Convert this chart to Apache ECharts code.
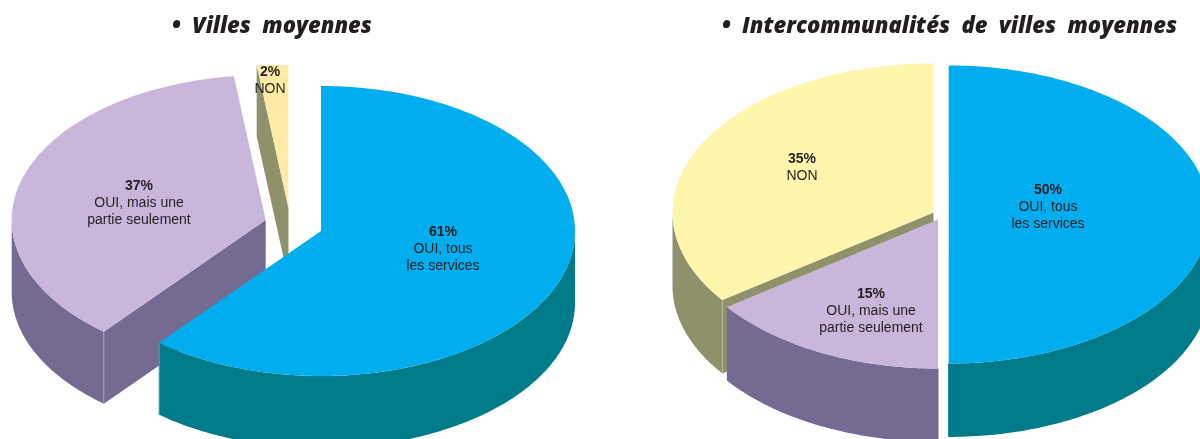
<!DOCTYPE html>
<html lang="fr">
<head>
<meta charset="utf-8">
<title>Villes moyennes et intercommunalités</title>
<script src="https://cdn.jsdelivr.net/npm/echarts@6/dist/echarts.min.js"></script>
<style>
  html, body { margin: 0; padding: 0; background: #fff; }
  #chart { width: 1200px; height: 439px; }
</style>
</head>
<body>
<div id="chart"></div>
<script>
// Shares of answers, in percent, clockwise from twelve o'clock.
const answers = ['OUI, tous\nles services', 'OUI, mais une\npartie seulement', 'NON'];
const villesValues = [61, 37, 2];
const intercoValues = [50, 15, 35];
const titles = ['•  Villes  moyennes', '•  Intercommunalités  de  villes  moyennes'];

// Tilted-disc layout of each pie: every slice is pulled out to its own apex.
const villesLayout = {
  rx: 254, ry: 145, depth: 72, clipTop: 65,
  apex: [[321, 231], [265.7, 220], [288.5, 208]],
  labels: [[443, 249], [139, 203], [270, 80.5]],
  top: ['#00adef', '#c8b7da', '#ffeba6'],
  side: ['#007b8a', '#756a92', '#8e916a'],
  edge: ['#5fa6b0', '#a79fba', '#8e916a']
};
const intercoLayout = {
  rx: 261, ry: 149, depth: 73.4, clipTop: 0,
  apex: [[948.7, 214.5], [938, 219.5], [933.5, 212.5]],
  labels: [[1048, 207], [871, 311], [802, 167.5]],
  top: ['#00adef', '#c8b7da', '#fff6ad'],
  side: ['#007b8a', '#756a92', '#8e916a'],
  edge: ['#007b8a', '#756a92', '#b7b99b']
};

const TAU = Math.PI * 2;
const labelFont = '"Liberation Sans", Arial, sans-serif';

// Builds a custom series that projects each slice on a flattened ellipse.
function pieSeries(values, layout) {
  const total = values.reduce((s, v) => s + v, 0);
  const order = values.map((_, i) => i).reverse();   // back slices are painted first

  function renderSlice(params, api) {
    const i = api.value(1);
    const n = values.length;
    const before = values.slice(0, i).reduce((s, v) => s + v, 0);
    const a = before / total * TAU;
    const b = (before + api.value(0)) / total * TAU;
    const [cx, cy] = layout.apex[i];
    const clampY = y => Math.max(layout.clipTop, y);
    const rim = (t, drop) => [
      cx + layout.rx * Math.sin(t),
      clampY(cy - layout.ry * Math.cos(t) + drop)
    ];
    const arc = (from, to, drop) => {
      const steps = Math.max(2, Math.ceil((to - from) / (Math.PI / 180)));
      const pts = [];
      for (let k = 0; k <= steps; k++) pts.push(rim(from + (to - from) * k / steps, drop));
      return pts;
    };
    const base = (n - i) * 10;
    const children = [];
    const depth = layout.depth;

    // Cut face on the starting radius, when it looks towards the viewer.
    if (Math.sin(a) < -1e-6) {
      children.push({
        type: 'polygon', z2: base,
        shape: { points: [[cx, clampY(cy)], rim(a, 0), rim(a, depth), [cx, clampY(cy + depth)]] },
        style: { fill: layout.side[i] }
      });
    }
    // Outer wall: only the front half of the rim shows.
    const from = Math.max(a, Math.PI / 2);
    const to = Math.min(b, Math.PI * 1.5);
    if (to > from) {
      children.push({
        type: 'polygon', z2: base + 1,
        shape: { points: arc(from, to, 0).concat(arc(from, to, depth).reverse()) },
        style: { fill: layout.side[i] }
      });
      // Pale hairline along the vertical corner of the block.
      const cornerT = a > Math.PI / 2 && a < Math.PI * 1.5 ? a : (b < Math.PI * 1.5 ? b : null);
      if (cornerT !== null) {
        const p = rim(cornerT, 0), q = rim(cornerT, depth);
        children.push({
          type: 'line', z2: base + 2,
          shape: { x1: p[0], y1: p[1], x2: q[0], y2: q[1] },
          style: { stroke: layout.edge[i], lineWidth: 1 }
        });
      }
    }
    // Top surface of the slice.
    children.push({
      type: 'polygon', z2: base + 3,
      shape: { points: [[cx, clampY(cy)]].concat(arc(a, b, 0)) },
      style: { fill: layout.top[i] }
    });
    // Percentage in bold above the answer.
    const rowLines = answers[i].split('\n').map(l => '{n|' + l + '}').join('\n');
    children.push({
      type: 'text', z2: 200,
      style: {
        x: layout.labels[i][0], y: layout.labels[i][1],
        text: '{b|' + api.value(0) + '%}\n' + rowLines,
        align: 'center', verticalAlign: 'middle', fill: '#231f20',
        rich: {
          b: { fontFamily: labelFont, fontWeight: 'bold', fontSize: 14, lineHeight: 16.7, fill: '#231f20', align: 'center' },
          n: { fontFamily: labelFont, fontSize: 14, lineHeight: 16.7, fill: '#231f20', align: 'center' }
        }
      }
    });
    return { type: 'group', children };
  }

  return {
    type: 'custom',
    coordinateSystem: 'none',
    silent: true,
    clip: false,
    encode: { itemName: 1 },
    data: order.map(i => [values[i], i]),
    renderItem: renderSlice
  };
}

const chart = echarts.init(document.getElementById('chart'), null, { renderer: 'canvas' });
const titleStyle = {
  fontFamily: '"Open Sans", sans-serif', fontStyle: 'italic', fontWeight: 800,
  fontSize: 22, color: '#231f20'
};
chart.setOption({
  animation: false,
  backgroundColor: '#ffffff',
  title: [
    { text: titles[0], left: 172, top: 16, padding: 0, textStyle: titleStyle },
    { text: titles[1], left: 722, top: 16, padding: 0, textStyle: titleStyle }
  ],
  series: [pieSeries(villesValues, villesLayout), pieSeries(intercoValues, intercoLayout)]
});
</script>
</body>
</html>
